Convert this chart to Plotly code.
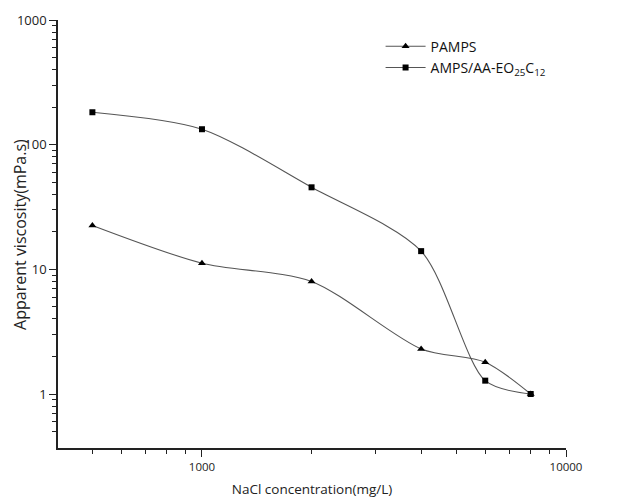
import plotly.graph_objects as go

nacl = [500, 1000, 2000, 4000, 6000, 8000]
pamps = [22.5, 11.2, 8.0, 2.3, 1.8, 1.0]
amps = [182, 133, 45.5, 14.0, 1.28, 1.0]

x_major = [1000, 10000]
x_minor = [500, 600, 700, 800, 900, 2000, 3000, 4000, 5000, 6000, 7000, 8000, 9000]
y_major = [1, 10, 100, 1000]
y_minor = [0.5, 0.6, 0.7, 0.8, 0.9] + [m * d for d in (1, 10, 100) for m in range(2, 10)]

fig = go.Figure()
fig.add_trace(go.Scatter(
    x=nacl, y=pamps, name="PAMPS", mode="lines+markers",
    line=dict(color="#555555", width=1.1, shape="spline", smoothing=0.8),
    marker=dict(symbol="triangle-up", color="black", size=7),
))
fig.add_trace(go.Scatter(
    x=nacl, y=amps, name="AMPS/AA-EO<sub>25</sub>C<sub>12</sub>", mode="lines+markers",
    line=dict(color="#555555", width=1.1, shape="spline", smoothing=0.8),
    marker=dict(symbol="square", color="black", size=6),
))

fam = "Open Sans, Noto Sans, sans-serif"
fig.update_layout(
    width=637, height=500,
    margin=dict(l=58, r=71, t=20, b=52),
    paper_bgcolor="white", plot_bgcolor="white",
    font=dict(family=fam, size=12, color="#222"),
    showlegend=True,
    legend=dict(x=0.635, y=0.975, xanchor="left", yanchor="top",
                bgcolor="rgba(0,0,0,0)", font=dict(size=14, family=fam, color="#111"),
                itemwidth=40, tracegroupgap=0),
    xaxis=dict(
        type="log", range=[2.6045, 4.0], showgrid=False, zeroline=False,
        showline=True, linecolor="#222", linewidth=1.5, automargin=False,
        tickmode="array", tickvals=x_major, ticktext=["1000", "10000"],
        ticks="outside", ticklen=7, tickwidth=1.3, tickcolor="#222",
        minor=dict(tickmode="array", tickvals=x_minor, ticks="outside", ticklen=4, tickwidth=1, tickcolor="#222", showgrid=False),
        title=dict(text="NaCl concentration(mg/L)", font=dict(size=13.5), standoff=12),
        tickfont=dict(size=11.5),
    ),
    yaxis=dict(
        type="log", range=[-0.433, 3.0], showgrid=False, zeroline=False,
        showline=True, linecolor="#222", linewidth=1.5, automargin=False,
        tickmode="array", tickvals=y_major, ticktext=["1", "10", "100", "1000"],
        ticks="outside", ticklen=7, tickwidth=1.3, tickcolor="#222",
        minor=dict(tickmode="array", tickvals=y_minor, ticks="outside", ticklen=4, tickwidth=1, tickcolor="#222", showgrid=False),
        tickfont=dict(size=13),
    ),
    annotations=[dict(
        text="Apparent viscosity(mPa.s)", textangle=-90,
        xref="paper", yref="paper", x=-0.075, y=0.5,
        xanchor="center", yanchor="middle", showarrow=False,
        font=dict(size=16, family=fam, color="#222"),
    )],
)

fig.write_html("out.html")
